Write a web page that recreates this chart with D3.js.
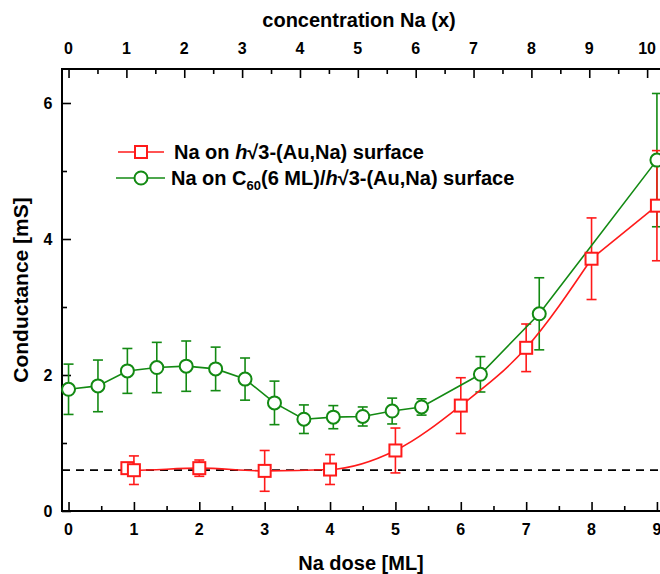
<!DOCTYPE html>
<html>
<head>
<meta charset="utf-8">
<script src="https://cdn.jsdelivr.net/npm/d3@7"></script>
<style>
  body { margin: 0; background: #fff; }
  text { font-family: "Liberation Sans", Arial, sans-serif; font-weight: bold; }
</style>
</head>
<body>
<div id="chart"></div>
<script>
// Na on h√3-(Au,Na) surface
var redX   = [0.9, 1, 2, 3, 4, 5, 6, 7, 8, 9]
var redY   = [0.63, 0.60, 0.63, 0.59, 0.61, 0.89, 1.55, 2.40, 3.71, 4.49]
var redErr = [null, 0.21, 0.12, 0.30, 0.22, 0.33, 0.41, 0.35, 0.60, 0.81]

// Na on C60(6 ML)/h√3-(Au,Na) surface
var greenX   = [0, 0.45, 0.9, 1.35, 1.8, 2.25, 2.7, 3.15, 3.6, 4.05, 4.5, 4.95, 5.4, 6.3, 7.2, 9.0]
var greenY   = [1.79, 1.84, 2.06, 2.11, 2.13, 2.09, 1.94, 1.59, 1.35, 1.38, 1.39, 1.47, 1.53, 2.01, 2.90, 5.16]
var greenErr = [0.37, 0.38, 0.33, 0.37, 0.37, 0.32, 0.31, 0.32, 0.21, 0.17, 0.14, 0.19, 0.12, 0.26, 0.53, 0.98]

var baseline = 0.6
var doseTicks = [0, 1, 2, 3, 4, 5, 6, 7, 8, 9]
var concTicks = [0, 1, 2, 3, 4, 5, 6, 7, 8, 9, 10]
var yTicks = [0, 2, 4, 6]
var mlPerConc = 0.885   // 10 concentration units = 8.85 ML

var red = "#ff1a1a", green = "#138a13"

var width = 660, height = 574
var margin = {top: 69, right: -10, bottom: 63, left: 62}
var plotW = width - margin.left - margin.right,
    plotH = height - margin.top - margin.bottom

var svg = d3.select("#chart").append("svg")
  .attr("width", width)
  .attr("height", height)

var g = svg.append("g")
  .attr("transform", "translate(" + margin.left + "," + margin.top + ")")

var x = d3.scaleLinear().domain([-0.1, 9.2]).range([0, plotW])
var xTop = d3.scaleLinear().domain([-0.1 / mlPerConc, 9.2 / mlPerConc]).range([0, plotW])
var y = d3.scaleLinear().domain([0, 6.5]).range([plotH, 0])

function halves(ticks) {
  var out = []
  ticks.forEach(function(t, i) { if (i < ticks.length - 1) out.push(t + 0.5) })
  return out
}

// axes, ticks pointing inward
g.append("g")
  .attr("transform", "translate(0," + plotH + ")")
  .call(d3.axisTop(x).tickValues(doseTicks).tickSize(9).tickFormat(""))
g.append("g")
  .attr("transform", "translate(0," + plotH + ")")
  .call(d3.axisTop(x).tickValues(halves(doseTicks)).tickSize(5).tickFormat(""))

g.append("g")
  .call(d3.axisBottom(xTop).tickValues(concTicks).tickSize(9).tickFormat(""))
g.append("g")
  .call(d3.axisBottom(xTop).tickValues(halves(concTicks)).tickSize(5).tickFormat(""))

g.append("g")
  .call(d3.axisRight(y).tickValues(yTicks).tickSize(9).tickFormat(""))
g.append("g")
  .call(d3.axisRight(y).tickValues([1, 3, 5]).tickSize(5).tickFormat(""))

g.selectAll(".domain").remove()
g.selectAll(".tick line").attr("stroke", "#000").attr("stroke-width", 1.6)

// frame
g.append("path")
  .attr("d", "M" + plotW + ",0H0V" + plotH + "H" + plotW)
  .attr("fill", "none")
  .attr("stroke", "#000")
  .attr("stroke-width", 2)

// tick labels
svg.selectAll(".xlab").data(doseTicks).enter().append("text")
  .attr("x", d => margin.left + x(d))
  .attr("y", margin.top + plotH + 24)
  .attr("text-anchor", "middle")
  .attr("font-size", 16)
  .text(d => d)

svg.selectAll(".toplab").data(concTicks).enter().append("text")
  .attr("x", d => margin.left + xTop(d))
  .attr("y", 54)
  .attr("text-anchor", "middle")
  .attr("font-size", 16)
  .text(d => d)

svg.selectAll(".ylab").data(yTicks).enter().append("text")
  .attr("x", 48)
  .attr("y", d => margin.top + y(d) + 6)
  .attr("text-anchor", "middle")
  .attr("font-size", 16)
  .text(d => d)

// titles
svg.append("text")
  .attr("x", 361).attr("y", 570)
  .attr("text-anchor", "middle")
  .attr("font-size", 20)
  .text("Na dose [ML]")

svg.append("text")
  .attr("x", 359).attr("y", 27)
  .attr("text-anchor", "middle")
  .attr("font-size", 20)
  .text("concentration Na (x)")

svg.append("text")
  .attr("transform", "translate(28," + (margin.top + plotH / 2) + ") rotate(-90)")
  .attr("text-anchor", "middle")
  .attr("font-size", 21)
  .text("Conductance [mS]")

// dashed reference level
g.append("line")
  .attr("x1", 0).attr("x2", plotW)
  .attr("y1", y(baseline)).attr("y2", y(baseline))
  .attr("stroke", "#000")
  .attr("stroke-width", 1.8)
  .attr("stroke-dasharray", "8,6")

var redData = redX.map((d, i) => ({x: d, y: redY[i], e: redErr[i]}))
var greenData = greenX.map((d, i) => ({x: d, y: greenY[i], e: greenErr[i]}))

function errorBars(data, color) {
  var eg = g.append("g").attr("stroke", color).attr("stroke-width", 1.6)
  data.filter(d => d.e != null).forEach(function(d) {
    var cx = x(d.x)
    eg.append("line").attr("x1", cx).attr("x2", cx).attr("y1", y(d.y - d.e)).attr("y2", y(d.y + d.e))
    eg.append("line").attr("x1", cx - 5).attr("x2", cx + 5).attr("y1", y(d.y - d.e)).attr("y2", y(d.y - d.e))
    eg.append("line").attr("x1", cx - 5).attr("x2", cx + 5).attr("y1", y(d.y + d.e)).attr("y2", y(d.y + d.e))
  })
}

errorBars(greenData, green)
errorBars(redData, red)

var lineGreen = d3.line().x(d => x(d.x)).y(d => y(d.y))
var lineRed = d3.line().x(d => x(d.x)).y(d => y(d.y)).curve(d3.curveMonotoneX)

g.append("path").datum(greenData)
  .attr("d", lineGreen)
  .attr("fill", "none").attr("stroke", green).attr("stroke-width", 1.6)

// smooth fit up to 8 ML, straight segment to the last point
var redFit = redData.filter(d => d.x <= 8)
var redTail = redData.filter(d => d.x >= 8)
g.append("path").datum(redFit)
  .attr("d", lineRed)
  .attr("fill", "none").attr("stroke", red).attr("stroke-width", 1.6)
g.append("path").datum(redTail)
  .attr("d", lineGreen)
  .attr("fill", "none").attr("stroke", red).attr("stroke-width", 1.6)

g.selectAll(".gdot").data(greenData).enter().append("circle")
  .attr("cx", d => x(d.x)).attr("cy", d => y(d.y))
  .attr("r", 6.5)
  .attr("fill", "#fff").attr("stroke", green).attr("stroke-width", 2)

g.selectAll(".rdot").data(redData).enter().append("rect")
  .attr("x", d => x(d.x) - 6).attr("y", d => y(d.y) - 6)
  .attr("width", 12).attr("height", 12)
  .attr("fill", "#fff").attr("stroke", red).attr("stroke-width", 2)

// legend
var leg = svg.append("g")
leg.append("line").attr("x1", 118).attr("x2", 164).attr("y1", 152).attr("y2", 152)
  .attr("stroke", red).attr("stroke-width", 1.6)
leg.append("rect").attr("x", 135).attr("y", 146).attr("width", 12).attr("height", 12)
  .attr("fill", "#fff").attr("stroke", red).attr("stroke-width", 2)
var t1 = leg.append("text").attr("x", 174).attr("y", 159).attr("font-size", 20)
t1.append("tspan").text("Na on ")
t1.append("tspan").attr("font-style", "italic").text("h")
t1.append("tspan").text("\u221A3-(Au,Na) surface")

leg.append("line").attr("x1", 116).attr("x2", 165).attr("y1", 178).attr("y2", 178)
  .attr("stroke", green).attr("stroke-width", 1.6)
leg.append("circle").attr("cx", 141).attr("cy", 178).attr("r", 6.5)
  .attr("fill", "#fff").attr("stroke", green).attr("stroke-width", 2)
var t2 = leg.append("text").attr("x", 171).attr("y", 185).attr("font-size", 20)
t2.append("tspan").text("Na on C")
t2.append("tspan").attr("font-size", 13).attr("dy", 5).text("60")
t2.append("tspan").attr("dy", -5).text("(6 ML)/")
t2.append("tspan").attr("font-style", "italic").text("h")
t2.append("tspan").text("\u221A3-(Au,Na) surface")
</script>
</body>
</html>
